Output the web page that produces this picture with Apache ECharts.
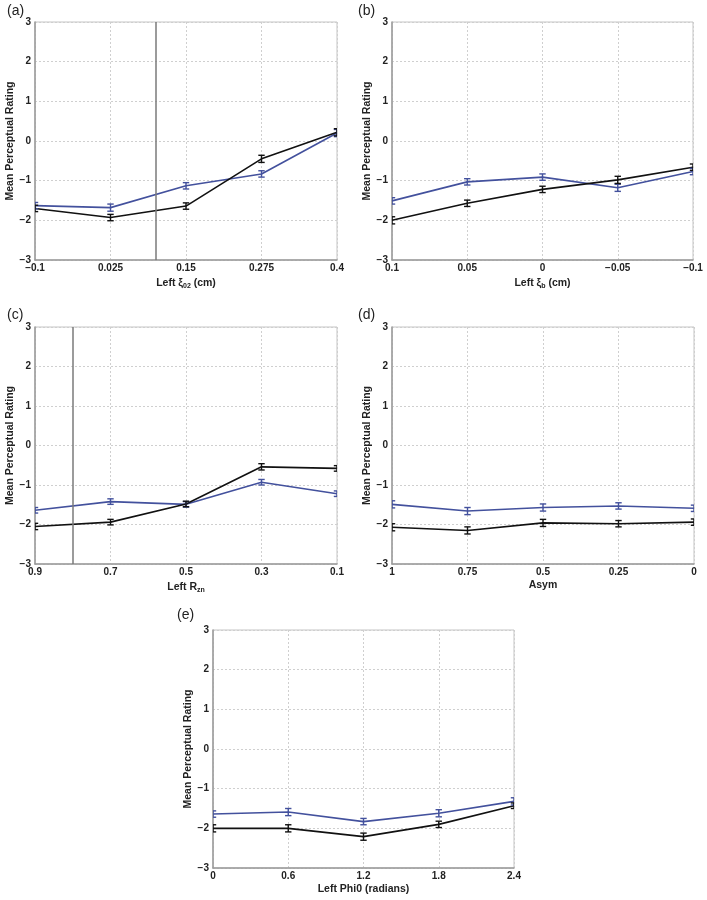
<!DOCTYPE html>
<html>
<head>
<meta charset="utf-8">
<script src="https://cdn.jsdelivr.net/npm/echarts@6/dist/echarts.min.js"></script>
<style>
html,body{margin:0;padding:0;background:#fff;}
#chart{width:707px;height:900px;}
</style>
</head>
<body>
<div id="chart"></div>
<script>
// ---- Data ----
const panelLetters = ['(a)', '(b)', '(c)', '(d)', '(e)'];

const xTicksA = [-0.1, 0.025, 0.15, 0.275, 0.4];
const xLabelsA = ['\u22120.1', '0.025', '0.15', '0.275', '0.4'];
const blackA = [-1.70, -1.93, -1.64, -0.45, 0.22];
const blueA = [-1.63, -1.68, -1.13, -0.83, 0.20];
const errBlackA = [0.08, 0.08, 0.08, 0.09, 0.09];
const errBlueA = [0.08, 0.09, 0.08, 0.08, 0.09];
const markerA = 0.1;

const xTicksB = [0.1, 0.05, 0, -0.05, -0.1];
const xLabelsB = ['0.1', '0.05', '0', '\u22120.05', '\u22120.1'];
const blackB = [-2.00, -1.57, -1.22, -0.98, -0.66];
const blueB = [-1.51, -1.03, -0.91, -1.18, -0.77];
const errBlackB = [0.09, 0.08, 0.08, 0.09, 0.08];
const errBlueB = [0.08, 0.08, 0.08, 0.09, 0.08];

const xTicksC = [0.9, 0.7, 0.5, 0.3, 0.1];
const xLabelsC = ['0.9', '0.7', '0.5', '0.3', '0.1'];
const blackC = [-2.05, -1.94, -1.48, -0.54, -0.58];
const blueC = [-1.64, -1.42, -1.49, -0.93, -1.22];
const errBlackC = [0.08, 0.07, 0.07, 0.08, 0.07];
const errBlueC = [0.07, 0.07, 0.07, 0.07, 0.07];
const markerC = 0.8;

const xTicksD = [1, 0.75, 0.5, 0.25, 0];
const xLabelsD = ['1', '0.75', '0.5', '0.25', '0'];
const blackD = [-2.07, -2.15, -1.96, -1.98, -1.94];
const blueD = [-1.49, -1.66, -1.57, -1.53, -1.59];
const errBlackD = [0.09, 0.09, 0.09, 0.08, 0.08];
const errBlueD = [0.09, 0.09, 0.09, 0.08, 0.08];

const xTicksE = [0, 0.6, 1.2, 1.8, 2.4];
const xLabelsE = ['0', '0.6', '1.2', '1.8', '2.4'];
const blackE = [-2.00, -2.00, -2.21, -1.90, -1.43];
const blueE = [-1.64, -1.59, -1.83, -1.62, -1.32];
const errBlackE = [0.09, 0.09, 0.09, 0.08, 0.07];
const errBlueE = [0.08, 0.09, 0.08, 0.09, 0.09];

const yTicks = [-3, -2, -1, 0, 1, 2, 3];
const yTitle = 'Mean Perceptual Rating';
const xTitles = [
  'Left {xi|\u03BE}{sub|02} (cm)',
  'Left {xi|\u03BE}{sub|b} (cm)',
  'Left R{sub|zn}',
  'Asym',
  'Left Phi0 (radians)'
];

// ---- Layout / style ----
const FONT = '"Liberation Sans", Arial, Helvetica, sans-serif';
const BLACK = '#111111';
const BLUE = '#43519d';
const grids = [
  {left: 35, top: 22, width: 302, height: 238},
  {left: 392, top: 22, width: 301, height: 238},
  {left: 35, top: 327, width: 302, height: 237},
  {left: 392, top: 327, width: 302, height: 237},
  {left: 213, top: 630, width: 301, height: 238}
];
const letterPos = [[7, 4], [358, 4], [7, 308], [358, 308], [177, 608]];

const panels = [
  {ticks: xTicksA, labels: xLabelsA, black: blackA, blue: blueA, eb: errBlackA, eu: errBlueA, marker: markerA},
  {ticks: xTicksB, labels: xLabelsB, black: blackB, blue: blueB, eb: errBlackB, eu: errBlueB},
  {ticks: xTicksC, labels: xLabelsC, black: blackC, blue: blueC, eb: errBlackC, eu: errBlueC, marker: markerC},
  {ticks: xTicksD, labels: xLabelsD, black: blackD, blue: blueD, eb: errBlackD, eu: errBlueD},
  {ticks: xTicksE, labels: xLabelsE, black: blackE, blue: blueE, eb: errBlackE, eu: errBlueE}
];

// map a real x value onto the evenly spaced tick positions
function toPos(ticks, v) {
  return (v - ticks[0]) / (ticks[1] - ticks[0]);
}

function errRender(color) {
  return function (params, api) {
    const x = api.value(0), y = api.value(1), e = api.value(2);
    const t = api.coord([x, y + e]);
    const b = api.coord([x, y - e]);
    const w = 3.2;
    const style = {stroke: color, lineWidth: 1.4, fill: null};
    return {
      type: 'group',
      children: [
        {type: 'line', shape: {x1: t[0], y1: t[1], x2: b[0], y2: b[1]}, style: style},
        {type: 'line', shape: {x1: t[0] - w, y1: t[1], x2: t[0] + w, y2: t[1]}, style: style},
        {type: 'line', shape: {x1: b[0] - w, y1: b[1], x2: b[0] + w, y2: b[1]}, style: style}
      ]
    };
  };
}

const gridOpts = [], xAxes = [], yAxes = [], series = [], graphics = [];

panels.forEach(function (p, i) {
  gridOpts.push(Object.assign({containLabel: false, show: true, borderColor: '#c4c4c4', borderWidth: 1}, grids[i]));
  const n = p.ticks.length - 1;
  xAxes.push({
    type: 'value', gridIndex: i, min: 0, max: n, interval: 1,
    name: xTitles[i], nameLocation: 'middle', nameGap: 16,
    nameTextStyle: {
      fontFamily: FONT, fontWeight: 'bold', fontSize: 10.5, color: '#222',
      rich: {
        xi: {fontFamily: FONT, fontWeight: 'bold', fontSize: 10.5, color: '#222'},
        sub: {fontFamily: FONT, fontWeight: 'bold', fontSize: 7, color: '#222', verticalAlign: 'bottom', padding: [7, 0, 0, 0]}
      }
    },
    axisLine: {show: true, onZero: false, lineStyle: {color: '#9a9a9a', width: 1.5}},
    axisTick: {show: false},
    axisLabel: {
      fontFamily: FONT, fontWeight: 'bold', fontSize: 10, color: '#222', margin: 3,
      formatter: function (v) { return p.labels[Math.round(v)]; }
    },
    splitLine: {show: true, lineStyle: {color: '#cfcfcf', type: [2, 2], width: 1}}
  });
  yAxes.push({
    type: 'value', gridIndex: i, min: -3, max: 3, interval: 1,
    name: yTitle, nameLocation: 'middle', nameGap: 17, nameRotate: 90,
    nameTextStyle: {fontFamily: FONT, fontWeight: 'bold', fontSize: 10.5, color: '#222'},
    axisLine: {show: true, onZero: false, lineStyle: {color: '#9a9a9a', width: 1.5}},
    axisTick: {show: false},
    axisLabel: {
      fontFamily: FONT, fontWeight: 'bold', fontSize: 10, color: '#222', margin: 4,
      formatter: function (v) { return v < 0 ? '\u2212' + Math.abs(v) : String(v); }
    },
    splitLine: {show: true, lineStyle: {color: '#cfcfcf', type: [2, 2], width: 1}}
  });

  const pos = p.ticks.map(function (t) { return toPos(p.ticks, t); });

  const blackSeries = {
    type: 'line', xAxisIndex: i, yAxisIndex: i, symbol: 'none', z: 4,
    lineStyle: {color: BLACK, width: 1.6},
    data: pos.map(function (x, k) { return [x, p.black[k]]; })
  };
  if (p.marker !== undefined) {
    blackSeries.markLine = {
      silent: true, symbol: 'none', label: {show: false},
      lineStyle: {color: '#7a7a7a', width: 1.5, type: 'solid'},
      data: [{xAxis: toPos(p.ticks, p.marker)}]
    };
  }
  series.push({
    type: 'line', xAxisIndex: i, yAxisIndex: i, symbol: 'none', z: 3,
    lineStyle: {color: BLUE, width: 1.6},
    data: pos.map(function (x, k) { return [x, p.blue[k]]; })
  });
  series.push(blackSeries);
  series.push({
    type: 'custom', xAxisIndex: i, yAxisIndex: i, clip: true, z: 5,
    renderItem: errRender(BLUE),
    data: pos.map(function (x, k) { return [x, p.blue[k], p.eu[k]]; })
  });
  series.push({
    type: 'custom', xAxisIndex: i, yAxisIndex: i, clip: true, z: 6,
    renderItem: errRender(BLACK),
    data: pos.map(function (x, k) { return [x, p.black[k], p.eb[k]]; })
  });

  graphics.push({
    type: 'text', left: letterPos[i][0], top: letterPos[i][1],
    style: {text: panelLetters[i], font: '14px ' + FONT, fill: '#222'}
  });
});

const chart = echarts.init(document.getElementById('chart'), null, {renderer: 'canvas'});
chart.setOption({
  animation: false,
  backgroundColor: '#ffffff',
  grid: gridOpts,
  xAxis: xAxes,
  yAxis: yAxes,
  series: series,
  graphic: graphics
});
</script>
</body>
</html>
